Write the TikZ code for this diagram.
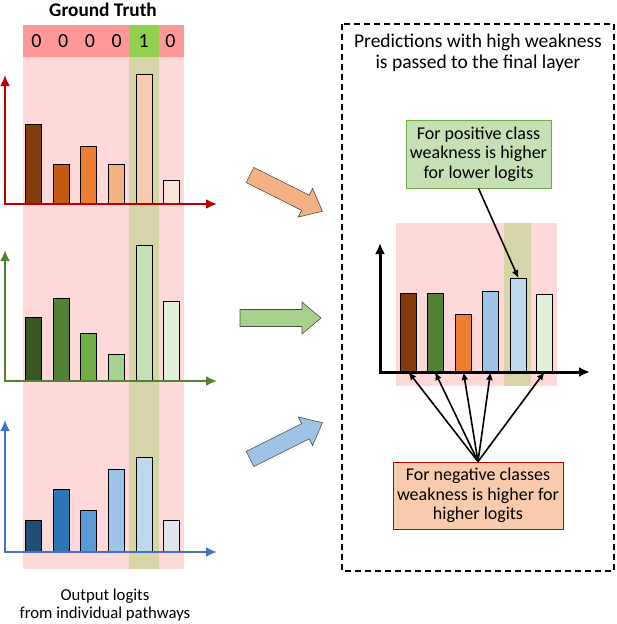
\documentclass[tikz,border=0pt]{standalone}
\usepackage{fontspec}
\setmainfont{Carlito}
\usetikzlibrary{arrows.meta}

\definecolor{gtred}{HTML}{FF9999}
\definecolor{gtgreen}{HTML}{92D050}
\definecolor{pinkbg}{HTML}{FFD9D9}
\definecolor{olivecol}{HTML}{D7D4A7}
\definecolor{axred}{HTML}{C00000}
\definecolor{axgreen}{HTML}{548235}
\definecolor{axblue}{HTML}{4472C4}
\definecolor{or1}{HTML}{843C0C}
\definecolor{or2}{HTML}{C55A11}
\definecolor{or3}{HTML}{ED7D31}
\definecolor{or4}{HTML}{F4B183}
\definecolor{or5}{HTML}{F8CBAD}
\definecolor{or6}{HTML}{FBE5D6}
\definecolor{gr1}{HTML}{385723}
\definecolor{gr2}{HTML}{548235}
\definecolor{gr3}{HTML}{70AD47}
\definecolor{gr4}{HTML}{A9D18E}
\definecolor{gr5}{HTML}{C5E0B4}
\definecolor{gr6}{HTML}{E2F0D9}
\definecolor{bl1}{HTML}{1F4E79}
\definecolor{bl2}{HTML}{2E75B6}
\definecolor{bl3}{HTML}{5B9BD5}
\definecolor{bl4}{HTML}{9DC3E6}
\definecolor{bl5}{HTML}{BDD7EE}
\definecolor{bl6}{HTML}{DEE5EF}

\tikzset{fatarrow/.pic={\draw[pic actions] (0,-8.5) -- (62,-8.5) -- (62,-16) -- (81,0) -- (62,16) -- (62,8.5) -- (0,8.5) -- cycle;}}

\begin{document}
\begin{tikzpicture}[x=1pt, y=-1pt, >={Latex[length=11pt,width=10pt]},
	bar/.style={draw=black, line width=0.8pt, minimum width=16pt, inner sep=0pt, anchor=south},
	textbox/.style={draw, line width=0.8pt, align=center, inner sep=1pt, font=\fontsize{18}{19.5}\selectfont},
	note/.style={->, line width=1.6pt, >={Latex[length=8pt,width=7pt]}}]
	\useasboundingbox (0,0) rectangle (616,624);

	% ground truth row
	\node[font=\bfseries\fontsize{19.3}{22}\selectfont] (gt) at (103,10) {Ground Truth};
	\fill[gtred] (23,25) rectangle (184,57);
	\fill[gtgreen] (129,25) rectangle (159,57);
	\foreach \d [count=\i] in {0,0,0,0,1,0}
		\node[font=\fontsize{20}{24}\selectfont] (d\i) at (9.6+26.8*\i,41) {\d};

	\fill[pinkbg] (23,57) rectangle (184,569);
	\fill[olivecol] (129,57) rectangle (159,569);

	% pathway 1
	\foreach \x/\t/\c [count=\i] in {33.5/125/or1, 61.5/165/or2, 88.5/147/or3, 116.5/165/or4, 144/75/or5, 171.5/181/or6}
		\node[bar, fill=\c, minimum height={204-\t}] (a\i) at (\x,204) {};
	\draw[<->, axred, line width=2pt] (5,75) -- (5,204) -- (217,204);

	% pathway 2
	\foreach \x/\t/\c [count=\i] in {33.5/318/gr1, 61.5/299/gr2, 88.5/334/gr3, 116.5/355/gr4, 144/246/gr5, 171.5/302/gr6}
		\node[bar, fill=\c, minimum height={381-\t}] (b\i) at (\x,381) {};
	\draw[<->, axgreen, line width=2pt] (5,250) -- (5,381) -- (217,381);

	% pathway 3
	\foreach \x/\t/\c [count=\i] in {33.5/521/bl1, 61.5/490/bl2, 88.5/511/bl3, 116.5/470/bl4, 144/458/bl5, 171.5/521/bl6}
		\node[bar, fill=\c, minimum height={552-\t}] (c\i) at (\x,552) {};
	\draw[<->, axblue, line width=2pt] (5,420) -- (5,552) -- (217,552);

	\node[align=center, font=\fontsize{16.7}{18.5}\selectfont] (out) at (105,605) {Output logits\\from individual pathways};

	% block arrows
	\pic[fill=or4, draw=black!70, line width=0.6pt, rotate=-26.6] at (250,175) {fatarrow};
	\pic[fill=gr4, draw=black!70, line width=0.6pt] at (240,318) {fatarrow};
	\pic[fill=bl4, draw=black!70, line width=0.6pt, rotate=26.6] at (250,459) {fatarrow};

	% final layer
	\draw[line width=2pt, dash pattern=on 6pt off 4pt] (342,24) rectangle (614,571);
	\node[align=center, font=\fontsize{19.5}{20.5}\selectfont] (title) at (478,53) {Predictions with high weakness\\is passed to the final layer};

	\fill[pinkbg] (396,223) rectangle (557,386);
	\fill[olivecol] (504,223) rectangle (531,386);
	\foreach \x/\t/\c [count=\i] in {408.5/294/or1, 435/294/gr2, 463.5/315/or3, 490.5/292/bl4, 518.5/279/bl5, 544.5/295/gr6}
		\node[bar, fill=\c, minimum height={372-\t}] (q\i) at (\x,372) {};
	\draw[<->, line width=3pt] (380,243) -- (380,372) -- (590,372);

	\node[textbox, fill=gr5, draw=gr3, minimum width=145pt, minimum height=68pt] (pos) at (478.5,154) {For positive class\\weakness is higher\\for lower logits};
	\node[textbox, fill=or5, draw=axred, minimum width=170pt, minimum height=67pt] (neg) at (478,495.5) {For negative classes\\weakness is higher for\\higher logits};

	\draw[note] (pos.south) -- (q5.north);
	\foreach \i in {1,2,3,4,6}
		\draw[note] (neg.north) -- (q\i.south);
\end{tikzpicture}
\end{document}
